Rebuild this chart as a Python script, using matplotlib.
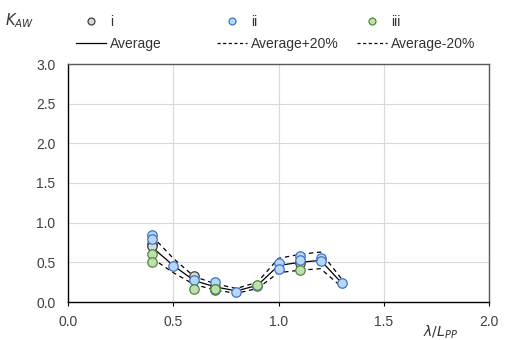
import matplotlib.pyplot as plt
from matplotlib.lines import Line2D

plt.rcParams['font.family'] = ['Liberation Sans', 'DejaVu Sans']

# measured points
i_x = [0.4, 0.4, 0.6, 0.7, 1.1]
i_y = [0.73, 0.70, 0.33, 0.19, 0.49]

ii_x = [0.4, 0.4, 0.5, 0.6, 0.7, 0.7, 0.8, 0.9, 1.0, 1.0, 1.1, 1.1, 1.2, 1.2, 1.3]
ii_y = [0.84, 0.80, 0.46, 0.28, 0.25, 0.15, 0.13, 0.20, 0.49, 0.41, 0.58, 0.53, 0.55, 0.52, 0.24]

iii_x = [0.4, 0.4, 0.6, 0.7, 0.7, 0.9, 1.1]
iii_y = [0.60, 0.51, 0.17, 0.17, 0.16, 0.22, 0.40]

# average curve and +/-20% band
avg_x = [0.4, 0.5, 0.6, 0.7, 0.8, 0.9, 1.0, 1.1, 1.2, 1.3]
avg_y = [0.69, 0.46, 0.27, 0.19, 0.14, 0.21, 0.46, 0.50, 0.525, 0.24]
up_y = [0.83, 0.55, 0.32, 0.23, 0.17, 0.25, 0.55, 0.60, 0.63, 0.29]
lo_y = [0.55, 0.37, 0.22, 0.15, 0.11, 0.17, 0.37, 0.40, 0.42, 0.19]

series_labels = ['i', 'ii', 'iii']
line_labels = ['Average', 'Average+20%', 'Average-20%']


def main():
    fig = plt.figure(figsize=(5.05, 3.4), dpi=100)
    ax = fig.add_axes([68 / 505, 1 - 302 / 340, 421 / 505, 238 / 340])

    dash = (0, (3.5, 3))
    ax.plot(avg_x, avg_y, color='black', lw=0.9, zorder=3)
    ax.plot(avg_x, up_y, color='black', lw=0.9, ls=dash, zorder=3)
    ax.plot(avg_x, lo_y, color='black', lw=0.9, ls=dash, zorder=3)

    styles = [
        dict(mfc='#d9d9d9', mec='#404040'),
        dict(mfc='#b4d8f5', mec='#4472c4'),
        dict(mfc='#bfe0ad', mec='#4e8a3a'),
    ]
    ms = 6.8
    for k, (xs, ys) in enumerate([(i_x, i_y), (ii_x, ii_y), (iii_x, iii_y)]):
        ax.plot(xs, ys, 'o', ms=ms, mew=0.9, zorder=4 + k, **styles[k])

    ax.set_xlim(0, 2.0)
    ax.set_ylim(0, 3.0)
    ax.set_xticks([0.0, 0.5, 1.0, 1.5, 2.0])
    ax.set_yticks([0.0, 0.5, 1.0, 1.5, 2.0, 2.5, 3.0])
    ax.set_xticklabels(['0.0', '0.5', '1.0', '1.5', '2.0'])
    ax.set_yticklabels(['0.0', '0.5', '1.0', '1.5', '2.0', '2.5', '3.0'])
    ax.tick_params(labelsize=10, colors='#404040', length=0, pad=9)
    ax.tick_params(axis='x', length=3, direction='out', color='black', pad=6)
    ax.grid(True, color='#d9d9d9', lw=0.8)
    ax.set_axisbelow(True)
    for s in ['left', 'bottom']:
        ax.spines[s].set_color('black')
        ax.spines[s].set_linewidth(1.0)
    for s in ['top', 'right']:
        ax.spines[s].set_color('#595959')
        ax.spines[s].set_linewidth(1.0)

    fig.text(440 / 505, 1 - 332 / 340, r'$\lambda/L_{PP}$', ha='center', va='center',
             fontsize=10, color='#333333', math_fontfamily='dejavusans')
    fig.text(20 / 505, 1 - 21 / 340, r'$K_{AW}$', ha='center', va='center',
             fontsize=10.5, color='#333333')

    col_x = [76, 217, 357]
    for k in range(3):
        handles = [
            Line2D([], [], ls='none', marker='o', ms=5, mew=0.9, **styles[k]),
            Line2D([], [], color='black', lw=0.9, ls='-' if k == 0 else (0, (2.5, 2))),
        ]
        fig.legend(handles, [series_labels[k], line_labels[k]], loc='upper left',
                   bbox_to_anchor=(col_x[k] / 505, 1 - 15 / 340), frameon=False,
                   fontsize=10, handlelength=2.15, handletextpad=0.3,
                   borderpad=0, borderaxespad=0, labelspacing=0.6,
                   labelcolor='#333333')

    fig.savefig('out.png', dpi=100)


if __name__ == '__main__':
    main()
